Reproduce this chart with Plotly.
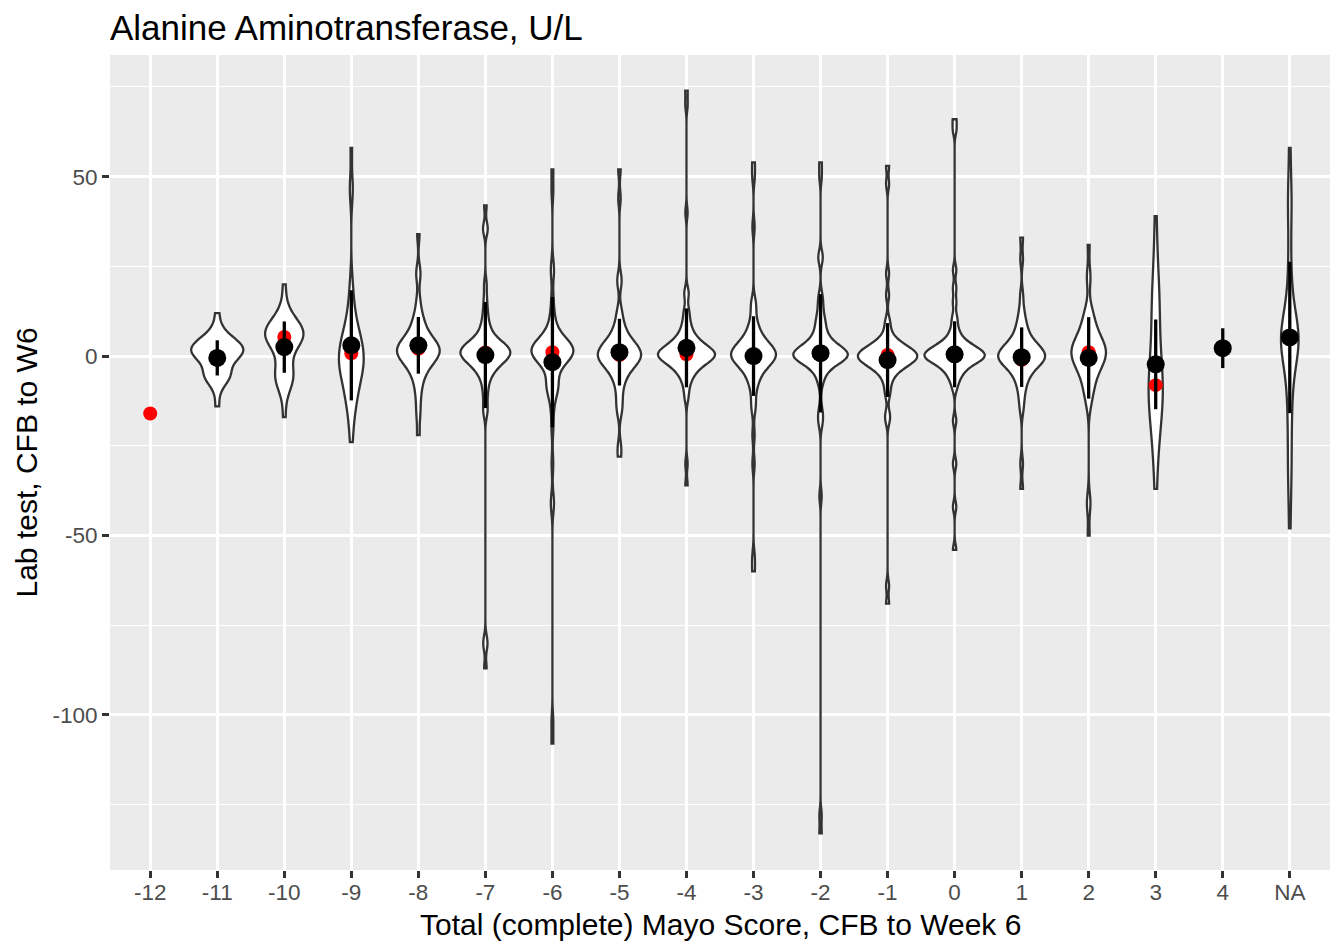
import numpy as np
import plotly.graph_objects as go

# ---------------- data ----------------
categories = ["-12", "-11", "-10", "-9", "-8", "-7", "-6", "-5", "-4", "-3",
              "-2", "-1", "0", "1", "2", "3", "4", "NA"]

# median (red points)
median_vals = [-16, -0.5, 5.3, 0.8, 2, 1, 1.1, 0.3, 0.5, 0, 0.8, 0.3, 0, -1, 1.1, -8.1, 2.2, 5.3]
# mean (black points) and SD (black vertical lines)
mean_vals = [None, -0.5, 2.5, 3, 3, 0.3, -1.7, 1.1, 2.3, 0, 0.8, -1.1, 0.5, -0.3, -0.5, -2.3, 2.2, 5.2]
sd_vals = [None, 4.9, 7.15, 15.35, 7.9, 14.8, 18.15, 9.3, 11, 11.1, 16.5, 10.3, 9.2, 8.3, 11.35, 12.5, 5.55, 21.1]

vals_m11 = [12, 8, 6, 5, 5, 4, 4, 3, 3, 3, 2, 2, 2, 2, 1, 1, 1, 0, 0, 0, -1, -1, -2,
            -4, -5, -5, -5, -6, -6, -7, -9, -14]
vals_m10 = [20, 14, 11, 10, 9, 9, 8, 8, 7, 7, 7, 6, 6, 6, 6, 5, 5, 5, 4, 4, 3, 2, 0, -2,
            -4, -5, -5, -6, -6, -7, -8, -10, -17]
vals_m9 = [58, 47, 46, 21, 17, 14, 12, 10, 9, 8, 7, 6, 5, 4, 4, 3, 3, 2, 2, 1, 1, 0,
           -1, -1, -2, -2, -3, -3, -4, -4, -5, -5, -6, -7, -8, -9, -10, -11, -12, -13,
           -15, -17, -20, -24]
vals_m8 = [34, 24, 22, 16, 13, 11, 10, 9, 8, 7, 6, 6, 5, 5, 4, 4, 4, 3, 3, 3, 2, 2, 2, 2,
           1, 1, 1, 1, 0, 0, 0, -1, -1, -1, -2, -2, -3, -3, -4, -5, -6, -7, -9, -11, -14, -17, -22]
vals_m7 = [42, 36, 35, 20, 16, 13, 11, 9, 8, 7, 6, 5, 5, 4, 4, 4, 3, 3, 3, 3, 2, 2, 2, 2, 2,
           1, 1, 1, 1, 1, 0, 0, 0, 0, 0, -1, -1, -1, -1, -2, -2, -2, -3, -3, -4, -4, -5, -6,
           -7, -9, -11, -14, -16, -79, -81, -87]
vals_m6 = [52, 46, 25, 23, 16, 12, 10, 8, 7, 6, 5, 5, 4, 4, 4, 3, 3, 3, 3, 3, 2, 2, 2, 2, 2,
           1, 1, 1, 1, 1, 0, 0, 0, 0, 0, -1, -1, -1, -2, -2, -3, -4, -5, -7, -8,
           -8, -9, -9, -10, -12, -15, -20, -30, -40, -42, -102, -108]
vals_m5 = [52, 44, 22, 20, 13, 11, 9, 8, 7, 6, 5, 5, 4, 4, 3, 3, 3, 2, 2, 2, 2, 1, 1, 1,
           0, 0, 0, 0, -1, -1, -1, -1, -2, -2, -2, -3, -3, -4, -4, -5, -6, -7, -8, -10, -12,
           -14, -16, -25, -28]
vals_m4 = [74, 70, 40, 18, 17, 13, 12, 10, 9, 8, 7, 6, 6, 5, 5, 4, 4, 4, 3, 3, 3, 3, 2, 2,
           2, 2, 2, 1, 1, 1, 1, 1, 1, 1, 0, 0, 0, 0, 0, 0, 0, 0, -1, -1, -1, -1, -1, -2, -2,
           -2, -2, -3, -3, -3, -4, -4, -5, -5, -6, -7, -8, -10, -12, -30, -36]
vals_m3 = [54, 50, 36, 15, 14, 11, 9, 8, 7, 6, 5, 5, 4, 4, 3, 3, 3, 2, 2, 2, 2, 1, 1, 1, 1,
           0, 0, 0, 0, 0, -1, -1, -1, -1, -2, -2, -2, -3, -3, -4, -4, -5, -6, -7, -8, -10,
           -13, -15, -22, -30, -56, -60]
vals_m2 = [54, 50, 28, 27, 17, 15, 13, 11, 10, 9, 8, 7, 6, 5, 5, 4, 4, 3, 3, 3, 2, 2, 2, 2,
           1, 1, 1, 1, 1, 1, 1, 0, 0, 0, 0, 0, 0, 0, -1, -1, -1, -1, -1, -2, -2, -2, -3, -3,
           -4, -5, -6, -8, -15, -17, -19, -39, -128, -133]
vals_m1 = [53, 48, 23, 17, 10, 8, 6, 5, 4, 4, 3, 3, 3, 2, 2, 2, 2, 1, 1, 1, 1, 1, 0, 0, 0,
           0, 0, 0, -1, -1, -1, -1, -1, -2, -2, -2, -2, -3, -3, -3, -4, -4, -5, -6, -7, -9,
           -11, -16, -18, -64, -69]
vals_0 = [66, 63, 24, 19, 15, 11, 9, 7, 6, 5, 4, 4, 3, 3, 3, 2, 2, 2, 2, 1, 1, 1, 1, 1,
          0, 0, 0, 0, 0, 0, -1, -1, -1, -1, -1, -2, -2, -2, -3, -3, -4, -4, -5, -6, -7, -9,
          -18, -30, -42, -54]
vals_1 = [33, 27, 17, 13, 11, 9, 8, 7, 6, 5, 4, 4, 3, 3, 3, 2, 2, 2, 1, 1, 1, 0, 0, 0,
          0, 0, -1, -1, -1, -1, -2, -2, -2, -3, -3, -4, -4, -5, -6, -7, -8, -10, -12, -15,
          -30, -37]
vals_2 = [31, 23, 21, 14, 12, 11, 10, 9, 8, 7, 6, 6, 5, 5, 4, 4, 3, 3, 3, 2, 2, 2, 1, 1, 1,
          0, 0, 0, -1, -1, -1, -2, -2, -3, -3, -4, -4, -5, -6, -7, -8, -9, -10, -12, -14,
          -40, -42, -50]
vals_3 = [39, 28, 20, 17, 15, 13, 10, 5, 0, -3, -5, -7, -8, -9, -10, -11, -12, -14, -16,
          -19, -23, -28, -37]
vals_na = [58, 48, 44, 40, 33, 26, 20, 16, 13, 11, 9, 8, 7, 6, 6, 5, 5, 4, 4, 3, 2, 1, 0,
           -2, -4, -7, -10, -14, -18, -23, -28, -33, -38, -48]

violin_data = {
    "-11": vals_m11, "-10": vals_m10, "-9": vals_m9, "-8": vals_m8, "-7": vals_m7,
    "-6": vals_m6, "-5": vals_m5, "-4": vals_m4, "-3": vals_m3, "-2": vals_m2,
    "-1": vals_m1, "0": vals_0, "1": vals_1, "2": vals_2, "3": vals_3, "NA": vals_na,
}

title_text = "Alanine Aminotransferase, U/L"
x_title = "Total (complete) Mayo Score, CFB to Week 6"
y_title = "Lab test, CFB to W6"

# ---------------- helpers (ggplot2-like violin scaling) ----------------
pos = {c: i + 1 for i, c in enumerate(categories)}


def bw_nrd0(x):
    x = np.asarray(x, float)
    hi = np.std(x, ddof=1)
    q75, q25 = np.percentile(x, [75, 25])
    lo = min(hi, (q75 - q25) / 1.34)
    if lo <= 0:
        lo = hi if hi > 0 else 1.0
    return 0.9 * lo * len(x) ** -0.2


def max_density(x, bw):
    x = np.asarray(x, float)
    g = np.linspace(x.min(), x.max(), 2048)
    d = np.exp(-0.5 * ((g[:, None] - x[None, :]) / bw) ** 2).sum(1) / (len(x) * bw * np.sqrt(2 * np.pi))
    return d.max()


bws = {k: bw_nrd0(v) for k, v in violin_data.items()}
maxd = {k: max_density(v, bws[k]) for k, v in violin_data.items()}
gmax = max(maxd.values())

fig = go.Figure()

for k, v in violin_data.items():
    fig.add_trace(go.Violin(
        x=[pos[k]] * len(v), y=v,
        bandwidth=bws[k], spanmode="hard",
        scalemode="width", width=0.9 * maxd[k] / gmax,
        fillcolor="white", line=dict(color="#333333", width=2.3),
        points=False, box_visible=False, meanline_visible=False,
        showlegend=False, hoverinfo="skip", opacity=1,
    ))

# medians
fig.add_trace(go.Scatter(
    x=[pos[c] for c in categories], y=median_vals, mode="markers",
    marker=dict(color="#FF0000", size=14), showlegend=False, hoverinfo="skip",
))

# mean +/- SD
mx = [pos[c] for c, m in zip(categories, mean_vals) if m is not None]
my = [m for m in mean_vals if m is not None]
ms = [s for s, m in zip(sd_vals, mean_vals) if m is not None]
fig.add_trace(go.Scatter(
    x=mx, y=my, mode="markers",
    marker=dict(color="black", size=18),
    error_y=dict(type="data", array=ms, symmetric=True, color="black", thickness=3.3, width=0),
    showlegend=False, hoverinfo="skip",
))

# page has an 8px body margin -> figure is 8px smaller and offset
W, H = 1330, 938
ml, mr, mt, mb = 102, 8, 47, 76
pw, ph = W - ml - mr, H - mt - mb

fig.update_layout(
    width=W, height=H,
    margin=dict(l=ml, r=mr, t=mt, b=mb),
    paper_bgcolor="white", plot_bgcolor="#EBEBEB",
    violinmode="overlay",
    font=dict(family="Liberation Sans, Arial, sans-serif"),
    title=dict(text=title_text, x=ml / W, xanchor="left", xref="container",
               y=1 - 20 / H, yanchor="middle", yref="container",
               font=dict(size=35, color="black")),
    xaxis=dict(
        range=[0.4, 18.6], tickmode="array", tickvals=[pos[c] for c in categories],
        ticktext=categories, showgrid=True, gridcolor="white", gridwidth=2.7,
        zeroline=False, ticks="outside", ticklen=7, tickwidth=2.7, tickcolor="#333333",
        tickfont=dict(size=22.5, color="#4D4D4D"), showline=False,
        ticklabelstandoff=-5,
    ),
    yaxis=dict(
        range=[-143.2, 83.9], tickmode="array", tickvals=[-100, -50, 0, 50],
        ticktext=["-100", "-50", "0", "50"],
        showgrid=True, gridcolor="white", gridwidth=2.7, zeroline=False,
        ticks="outside", ticklen=7, tickwidth=2.7, tickcolor="#333333",
        tickfont=dict(size=22.5, color="#4D4D4D"), showline=False,
        minor=dict(tickvals=[-125, -75, -25, 25, 75], showgrid=True,
                   gridcolor="white", gridwidth=1.4, ticks=""),
    ),
    annotations=[
        dict(text=x_title, x=0.5, xref="paper", y=-(916 - (H - mb)) / ph, yref="paper",
             xanchor="center", yanchor="middle", showarrow=False,
             font=dict(size=30, color="black")),
        dict(text=y_title, x=(18 - ml) / pw, xref="paper", y=0.5, yref="paper",
             xanchor="center", yanchor="middle", textangle=-90, showarrow=False,
             font=dict(size=30, color="black")),
    ],
)

fig.write_html("out.html")
